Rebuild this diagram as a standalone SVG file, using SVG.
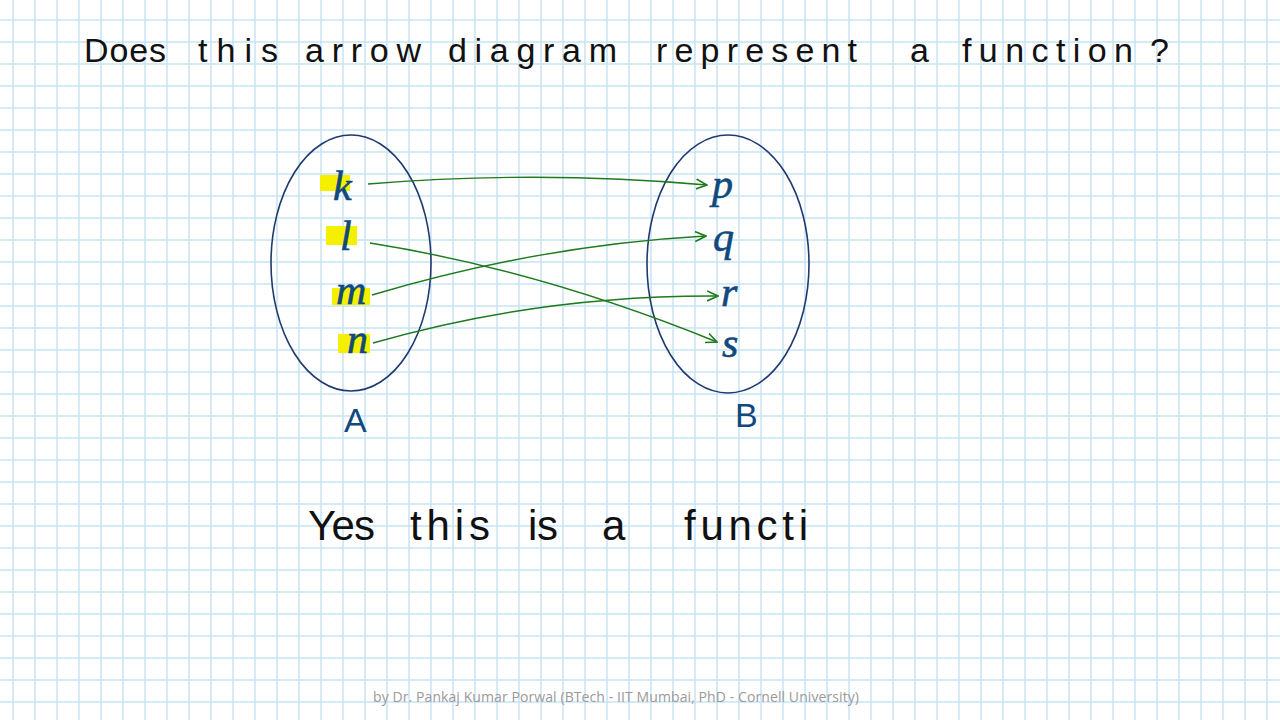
<svg xmlns="http://www.w3.org/2000/svg" width="1280" height="720" viewBox="0 0 1280 720">
<style>
.hand{font-family:"Liberation Sans","DejaVu Sans",sans-serif;fill:#111;}
.t1{font-size:34px;}
.t2{font-size:42px;}
.el{font-family:"Liberation Serif","DejaVu Serif",serif;font-style:italic;font-size:42px;fill:#10497e;stroke:#10497e;stroke-width:0.6;}
.lab{font-family:"Liberation Sans","DejaVu Sans",sans-serif;font-size:34px;fill:#10497e;}
.set{fill:none;stroke:#1f3a6e;stroke-width:1.6;}
.hl{fill:#f5f000;}
.arr{fill:none;stroke:#1d7a1d;stroke-width:1.4;marker-end:url(#head);}
.foot{font-family:"Open Sans","Liberation Sans",sans-serif;font-size:14px;fill:#9a9a9a;}
</style>
<defs>
<pattern id="grid" patternUnits="userSpaceOnUse" x="12" y="19" width="22" height="22">
<path d="M1,0 V22 M0,1 H22" stroke="#c6e4f4" stroke-width="1.5" fill="none"/>
</pattern>
<marker id="head" viewBox="0 0 12 12" refX="11" refY="6" markerWidth="12" markerHeight="12" markerUnits="userSpaceOnUse" orient="auto">
<path d="M0,1 L11,6 L0,11" fill="none" stroke="#1d7a1d" stroke-width="1.6"/>
</marker>
</defs>
<rect width="1280" height="720" fill="#ffffff"/>
<rect width="1280" height="720" fill="url(#grid)"/>

<g id="title" class="hand t1">
<text x="84" y="62" textLength="82" lengthAdjust="spacing">Does</text>
<text x="198" y="62" textLength="80" lengthAdjust="spacing">this</text>
<text x="305" y="62" textLength="116" lengthAdjust="spacing">arrow</text>
<text x="448" y="62" textLength="169" lengthAdjust="spacing">diagram</text>
<text x="656" y="62" textLength="201" lengthAdjust="spacing">represent</text>
<text x="910" y="62">a</text>
<text x="962" y="62" textLength="171" lengthAdjust="spacing">function</text>
<text x="1150" y="62">?</text>
</g>

<g id="setA">
<ellipse class="set" cx="351" cy="263" rx="80" ry="128"/>
<text class="lab" x="344" y="432">A</text>
</g>
<g id="setB">
<ellipse class="set" cx="728" cy="264" rx="81" ry="129"/>
<text class="lab" x="735" y="427">B</text>
</g>

<g id="node-k"><rect class="hl" x="320" y="175" width="30" height="16"/><text class="el" x="333" y="200">k</text></g>
<g id="node-l"><rect class="hl" x="326" y="226" width="31" height="19"/><text class="el" x="340" y="250">l</text></g>
<g id="node-m"><rect class="hl" x="332" y="288" width="38" height="17"/><text class="el" x="336" y="304">m</text></g>
<g id="node-n"><rect class="hl" x="338" y="334" width="32" height="19"/><text class="el" x="347" y="353">n</text></g>

<g id="node-p"><text class="el" x="712" y="198">p</text></g>
<g id="node-q"><text class="el" x="713" y="251">q</text></g>
<g id="node-r"><text class="el" x="721" y="306">r</text></g>
<g id="node-s"><text class="el" x="722" y="357">s</text></g>

<g id="connectors">
<path class="arr" d="M368,184 Q540,170 707,185"/>
<path class="arr" d="M370,243 Q540,270 717,342"/>
<path class="arr" d="M372,295 Q540,245 706,236"/>
<path class="arr" d="M373,343 Q540,295 718,296"/>
</g>

<g id="answer" class="hand t2">
<text x="308" y="540" textLength="67" lengthAdjust="spacing">Yes</text>
<text x="410" y="540" textLength="80" lengthAdjust="spacing">this</text>
<text x="528" y="540" textLength="30" lengthAdjust="spacing">is</text>
<text x="602" y="540">a</text>
<text x="684" y="540" textLength="124" lengthAdjust="spacing">functi</text>
</g>

<text class="foot" x="373" y="702" textLength="486" lengthAdjust="spacing">by Dr. Pankaj Kumar Porwal (BTech - IIT Mumbai, PhD - Cornell University)</text>
</svg>
